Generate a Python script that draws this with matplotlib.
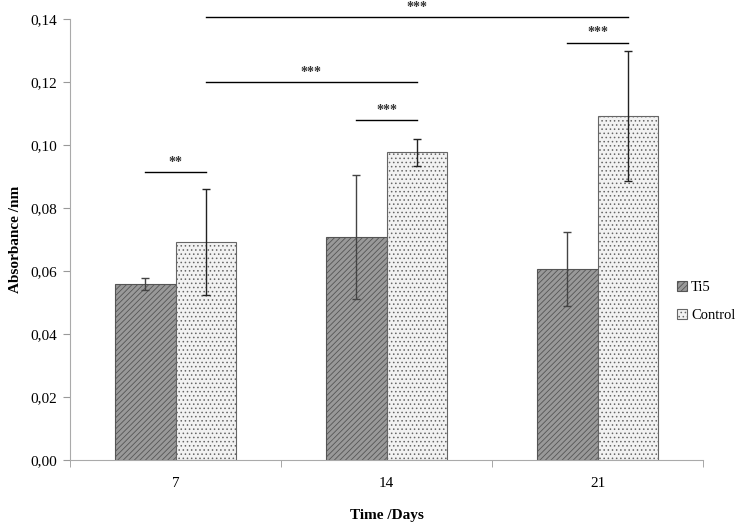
import matplotlib
matplotlib.use("Agg")
import matplotlib.pyplot as plt
import numpy as np

plt.rcParams["font.family"] = ["Liberation Serif", "DejaVu Serif"]
plt.rcParams["hatch.linewidth"] = 0.6

days = ["7", "14", "21"]
ti5 = [0.0558, 0.0709, 0.0606]
ti5_err = [0.0019, 0.0197, 0.0118]
control = [0.0693, 0.0977, 0.1091]
control_err = [0.0168, 0.0043, 0.0206]

# significance brackets: (x_from, x_to, height, stars)
sig_lines = [
    (-0.1435, 0.1435, 0.0914, "**"),
    (0.8565, 1.1435, 0.108, "***"),
    (1.8565, 2.1435, 0.1325, "***"),
    (0.1435, 1.1435, 0.120, "***"),
    (0.1435, 2.1435, 0.1407, "***"),
]

x = np.arange(len(days))
w = 0.287

fig = plt.figure(figsize=(7.51, 5.23), dpi=100)
ax = fig.add_axes([0.0932, 0.1205, 0.843, 0.8432])

ax.bar(x - w / 2, ti5, w, color="#999999", edgecolor="#555555", hatch="//////",
       linewidth=0.8, label="Ti5")
ax.bar(x + w / 2, control, w, color="#f2f2f2", edgecolor="#666666", hatch="....",
       linewidth=0.8, label="Control")
ax.errorbar(x - w / 2, ti5, yerr=ti5_err, fmt="none", ecolor="#444444",
            elinewidth=1, capsize=3, capthick=1)
ax.errorbar(x + w / 2, control, yerr=control_err, fmt="none", ecolor="#222222",
            elinewidth=1, capsize=3, capthick=1)

for x0, x1, y, s in sig_lines:
    ax.plot([x0, x1], [y, y], color="black", lw=1, clip_on=False)
    ax.text((x0 + x1) / 2, y + 0.001, s, ha="center", va="bottom", fontsize=10,
            fontweight="bold", color="#333333", clip_on=False)

ax.set_xlim(-0.5, 2.5)
ax.set_ylim(0, 0.14)
ticks = np.arange(0, 0.141, 0.02)
ax.set_yticks(ticks)
ax.set_yticklabels([f"{v:.2f}".replace(".", ",") for v in ticks])
ax.set_xticks(x)
ax.set_xticklabels(days)
ax.set_xticks([-0.5, 0.5, 1.5, 2.5], minor=True)
ax.tick_params(axis="x", which="major", length=0, pad=12, labelsize=11)
ax.tick_params(axis="x", which="minor", length=5, color="#999999", direction="out")
ax.tick_params(axis="y", length=5, color="#999999", labelsize=11, pad=4)

for side in ["top", "right"]:
    ax.spines[side].set_visible(False)
for side in ["left", "bottom"]:
    ax.spines[side].set_color("#aaaaaa")

ax.set_xlabel("Time /Days", fontsize=11, fontweight="bold", labelpad=14)
ax.set_ylabel("Absorbance /nm", fontsize=11, fontweight="bold", labelpad=6)

ax.legend(loc="center left", bbox_to_anchor=(0.95, 0.36), frameon=False, fontsize=10.5,
          handlelength=0.7, handleheight=0.7, handletextpad=0.25, labelspacing=1.0,
          borderaxespad=0)

fig.savefig("out.png", dpi=100)
